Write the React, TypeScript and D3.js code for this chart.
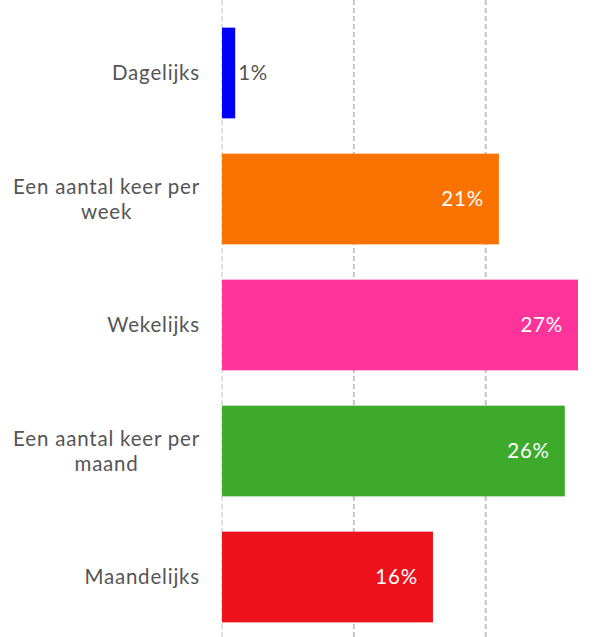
import * as d3 from "d3";
import { useRef, useEffect } from "react";

const categories = [
  "Dagelijks",
  "Een aantal keer per week",
  "Wekelijks",
  "Een aantal keer per maand",
  "Maandelijks",
];
const values = [1, 21, 27, 26, 16];
const barColors = ["#0000FF", "#FA7300", "#FF3399", "#3DAA2B", "#EC111A"];
const gridTicks = [0, 10, 20];

const labelLines: Record<string, string[]> = {
  "Een aantal keer per week": ["Een aantal keer per", "week"],
  "Een aantal keer per maand": ["Een aantal keer per", "maand"],
};

const width = 608;
const height = 637;
const font = "Lato, 'Open Sans', sans-serif";

function BarChart() {
  const ref = useRef<SVGSVGElement>(null);

  useEffect(() => {
    const svg = d3.select(ref.current);
    svg.selectAll("*").remove();

    const x = d3.scaleLinear().domain([0, 27]).range([222, 578]);
    const y = d3
      .scaleBand()
      .domain(categories)
      .range([10, 640])
      .paddingInner(0.28)
      .paddingOuter(0.14);

    // grid lines
    svg
      .selectAll("line.grid")
      .data(gridTicks)
      .join("line")
      .attr("class", "grid")
      .attr("x1", (d) => x(d))
      .attr("x2", (d) => x(d))
      .attr("y1", 0)
      .attr("y2", height)
      .attr("stroke", (d) => (d === 0 ? "#e0e0e0" : "#c4c4c4"))
      .attr("stroke-width", 2)
      .attr("stroke-dasharray", "5,3");

    // bars
    svg
      .selectAll("rect.bar")
      .data(values)
      .join("rect")
      .attr("class", "bar")
      .attr("x", x(0))
      .attr("y", (_, i) => y(categories[i])!)
      .attr("width", (d) => x(d) - x(0))
      .attr("height", y.bandwidth())
      .attr("fill", (_, i) => barColors[i]);

    // value labels
    svg
      .selectAll("text.val")
      .data(values)
      .join("text")
      .attr("class", "val")
      .attr("x", (d) => (d < 3 ? x(d) + 3 : x(d) - 15))
      .attr("y", (_, i) => y(categories[i])! + y.bandwidth() / 2)
      .attr("dy", "0.35em")
      .attr("text-anchor", (d) => (d < 3 ? "start" : "end"))
      .attr("fill", (d) => (d < 3 ? "#555" : "#fff"))
      .attr("font-family", font)
      .attr("font-size", 20.5)
      .attr("letter-spacing", 0.8)
      .text((d) => `${d}%`);

    // category labels
    categories.forEach((c) => {
      const lines = labelLines[c] || [c];
      const cy = y(c)! + y.bandwidth() / 2;
      const t = svg
        .append("text")
        .attr("font-family", font)
        .attr("font-size", 20.5)
        .attr("letter-spacing", 0.8)
        .attr("fill", "#555");
      lines.forEach((l, i) => {
        t.append("tspan")
          .attr("x", 0)
          .attr("y", cy + (i - (lines.length - 1) / 2) * 25)
          .attr("dy", "0.35em")
          .text(l);
      });
      // right align block, centre lines inside it
      const tspans = t.selectAll<SVGTSpanElement, unknown>("tspan").nodes();
      const maxW = d3.max(tspans.map((n) => n.getComputedTextLength())) || 0;
      if (lines.length > 1) {
        t.selectAll("tspan").attr("x", 200 - maxW / 2).attr("text-anchor", "middle");
      } else {
        t.selectAll("tspan").attr("x", 200).attr("text-anchor", "end");
      }
    });
  }, []);

  return (
    <svg
      ref={ref}
      width={width}
      height={height}
      style={{ position: "absolute", left: 0, top: 0, background: "#fff" }}
    ></svg>
  );
}

export default function App() {
  return <BarChart />;
}
